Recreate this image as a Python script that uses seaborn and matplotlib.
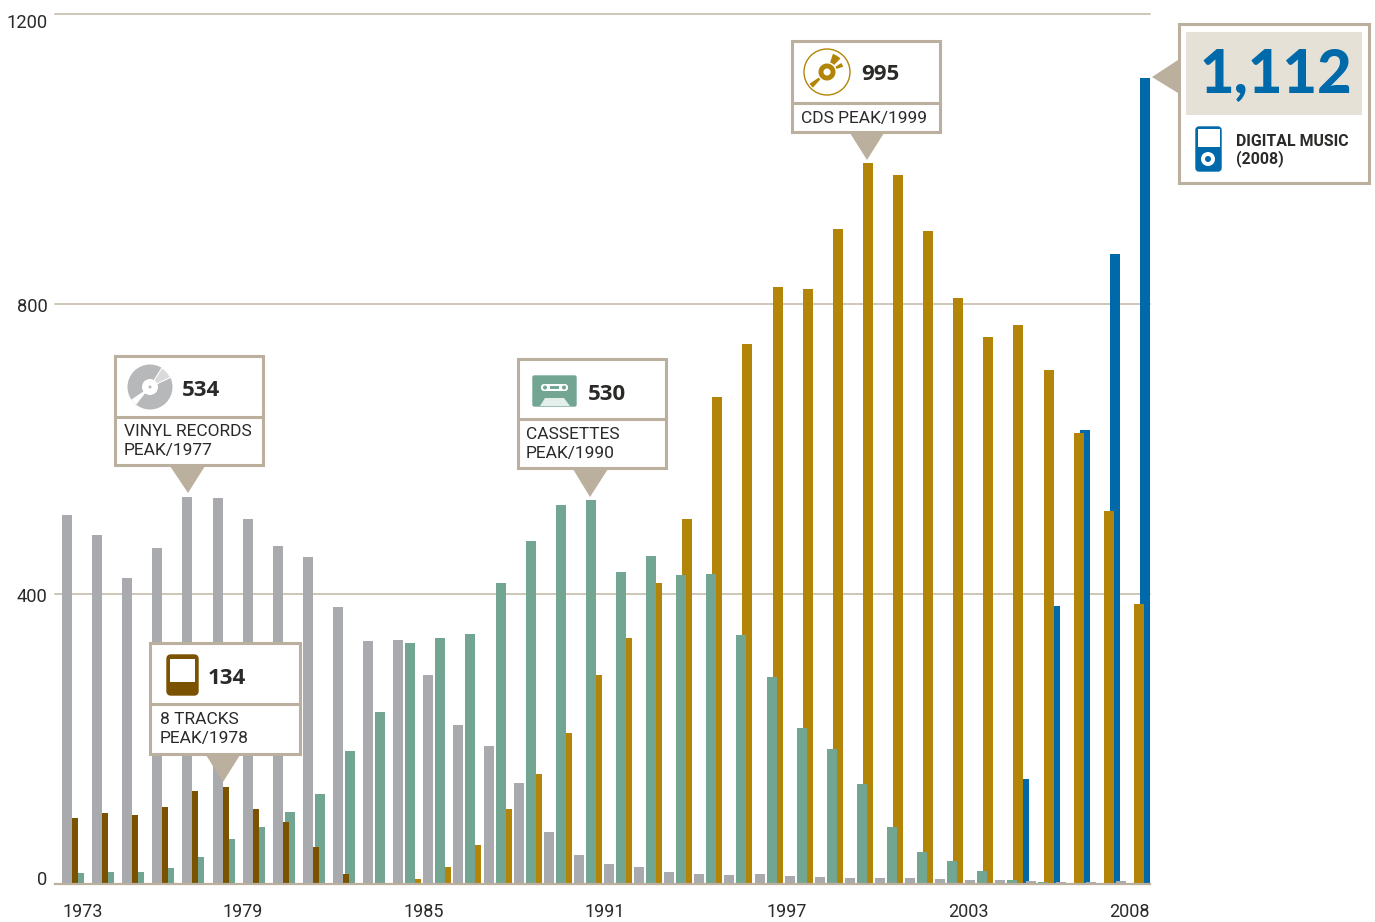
import matplotlib
matplotlib.use('Agg')
import matplotlib.pyplot as plt
import matplotlib.patches as mp
import pandas as pd
import seaborn as sns
from matplotlib.transforms import ScaledTranslation

# values, in millions of units
years = list(range(1973, 2009))
vinyl = [509, 481, 422, 463, 534, 532, 503, 466, 451, 382, 335, 337, 288, 219, 190, 139, 72, 40,
         28, 23, 17, 14, 12, 14, 11, 10, 8, 8, 8, 7, 6, 6, 4, 3, 3, 4]
cassettes = [15, 17, 17, 22, 37, 62, 79, 99, 124, 183, 237, 332, 339, 345, 415, 473, 523, 530,
             430, 452, 426, 428, 343, 286, 215, 186, 138, 79, 44, 32, 18, 6, 3, 2, 2, 2]
tracks_years = list(range(1973, 1983))
tracks = [91, 98, 95, 106, 128, 134, 103, 86, 51, 14]
cd_years = list(range(1984, 2009))
cds = [7, 23, 54, 103, 152, 208, 288, 339, 415, 503, 672, 745, 823, 821, 903, 995, 978, 901,
       808, 754, 771, 709, 622, 514, 386]
digital_years = list(range(2004, 2009))
digital = [145, 383, 626, 869, 1112]

x_ticks = [1973, 1979, 1985, 1991, 1997, 2003, 2008]
y_ticks = [0, 400, 800, 1200]

GRAY = '#A9AAAE'
BROWN = '#7A5200'
GREEN = '#72A592'
GOLD = '#B28508'
BLUE = '#0069AA'
BEIGE = '#BBAF9D'
PALE = '#E5E1D6'
DARK = '#2B2A29'

sns.set_style('white')
plt.rcParams['font.family'] = ['Roboto', 'DejaVu Sans']

W, H = 1375, 922
fig = plt.figure(figsize=(W / 100, H / 100), dpi=100)
ax = fig.add_axes([55 / W, (H - 884) / H, 1095 / W, 870 / H])

PERIOD = 30.11  # pixels per year
BAR_W = 10 / PERIOD


def bars(yrs, vals, shift_px, color):
    # each format sits at its own shift inside the year slot
    df = pd.DataFrame({'x': [y + shift_px / PERIOD for y in yrs], 'v': vals})
    sns.barplot(data=df, x='x', y='v', native_scale=True, width=BAR_W, color=color,
                saturation=1, linewidth=0, errorbar=None, ax=ax)


# back to front, the later bars cover the earlier ones
bars(digital_years, digital, 29, BLUE)
bars(cd_years, cds, 23, GOLD)
bars(years, cassettes, 17, GREEN)
bars(tracks_years, tracks, 11, BROWN)
bars(years, vinyl, 5, GRAY)

ax.set_ylim(0, 1200)
ax.set_xlabel('')
ax.set_ylabel('')
ax.set_axisbelow(True)
ax.grid(axis='y', color='#CDC6B6', lw=1.4)
ax.grid(axis='x', visible=False)
for gl in ax.get_ygridlines():
    gl.set_clip_on(False)
for side in ['top', 'left', 'right']:
    ax.spines[side].set_visible(False)
ax.spines['bottom'].set_color(BEIGE)
ax.spines['bottom'].set_linewidth(1.6)

ax.set_yticks(y_ticks)
ax.set_yticklabels([str(v) for v in y_ticks], fontsize=13.2, color=DARK)
ax.tick_params(axis='y', length=0, pad=5.5)
for lab, dy in zip(ax.get_yticklabels(), [6, -1, -1, -7]):
    lab.set_va('center_baseline')
    lab.set_transform(lab.get_transform() + ScaledTranslation(0, dy / 100, fig.dpi_scale_trans))

# label anchors differ a little from the bars, first and last sit on the ends
x_anchor = [1973, 1979, 1985.03, 1991.04, 1997.08, 2003.1, 2009.12]
ax.set_xticks(x_anchor)
ax.set_xticklabels([str(v) for v in x_ticks], fontsize=13, color=DARK)
ax.tick_params(axis='x', length=0, pad=14)
for lab, ha in zip(ax.get_xticklabels(), ['left', 'center', 'center', 'center', 'center', 'center', 'right']):
    lab.set_ha(ha)
ax.set_xlim(1973 - 7 / PERIOD, 1973 + 1088 / PERIOD)

# callouts are drawn on an overlay in pixel coordinates
ov = fig.add_axes([0, 0, 1, 1])
ov.set_xlim(0, W)
ov.set_ylim(H, 0)
ov.axis('off')


def box(x0, y0, x1, y1, div, tri):
    ov.add_patch(mp.Polygon(tri, closed=True, fc=BEIGE, ec='none'))
    ov.add_patch(mp.Rectangle((x0 + 0.8, y0 + 0.8), x1 - x0 - 1.6, y1 - y0 - 1.6, fc='white', ec=BEIGE, lw=2.2))
    if div:
        ov.plot([x0, x1], [div, div], color=BEIGE, lw=2.2, solid_capstyle='butt')


def number(x, y, s):
    ov.text(x, y + 2, s, fontsize=16, fontweight='bold', family=['Open Sans', 'DejaVu Sans'],
            color=DARK, va='center', ha='left')


def label(x, ys, lines):
    for y, s in zip(ys, lines):
        ov.text(x, y, s, fontsize=12.5, color=DARK, va='center', ha='left')


# vinyl
box(114, 355, 264, 466, 417, [(170, 466), (205, 466), (188, 493)])
ov.add_patch(mp.Circle((150, 387), 22.5, fc='#B7B8BA', ec='none'))
ov.add_patch(mp.Wedge((150, 387), 22.5, -58, -25, fc='#DADADC', ec='white', lw=0.8))
ov.add_patch(mp.Wedge((150, 387), 22.5, 128, 146, fc='white', ec='none'))
ov.add_patch(mp.Circle((150, 387), 8, fc='white', ec='none'))
ov.add_patch(mp.Circle((150, 387), 1.5, fc='#B7B8BA', ec='none'))
number(182, 388, '534')
label(124, [431, 450], ['VINYL RECORDS', 'PEAK/1977'])

# cassettes
box(517, 358, 667, 469, 419, [(573, 469), (608, 469), (590, 497)])
ov.add_patch(mp.FancyBboxPatch((533, 376), 43, 30, boxstyle='round,pad=0,rounding_size=1.5', fc=GREEN, ec=GREEN, lw=1))
ov.add_patch(mp.FancyBboxPatch((541, 384), 27, 7, boxstyle='round,pad=0,rounding_size=3', fc='white', ec='none'))
ov.add_patch(mp.Circle((545, 387.5), 2, fc=GREEN, ec='none'))
ov.add_patch(mp.Circle((564, 387.5), 2, fc=GREEN, ec='none'))
ov.add_patch(mp.Rectangle((550, 386), 9, 3, fc=GREEN, ec='none'))
ov.add_patch(mp.Polygon([(540, 406), (545, 398), (564, 398), (570, 406)], closed=True, fc='#E4EEEA', ec='none'))
number(588, 392, '530')
label(526, [434, 453], ['CASSETTES', 'PEAK/1990'])

# 8 tracks, this one covers the bars behind it
box(149, 642, 301, 755, 704, [(206, 755), (240, 755), (223, 782)])
ov.add_patch(mp.FancyBboxPatch((167, 655), 31, 40, boxstyle='round,pad=0,rounding_size=4', fc=BROWN, ec=BROWN, lw=1))
ov.add_patch(mp.Rectangle((170, 659), 25, 23, fc='white', ec='none'))
number(208, 676, '134')
label(160, [719, 738], ['8 TRACKS', 'PEAK/1978'])

# cds
box(791, 40, 941, 133, 103, [(850, 133), (884, 133), (867, 160)])
ov.add_patch(mp.Circle((827, 72), 23, fc='white', ec=GOLD, lw=1))
ov.add_patch(mp.Wedge((827, 72), 8.5, 0, 360, width=5, fc=GOLD, ec='none'))
ov.add_patch(mp.Wedge((827, 72), 19, -72, -45, width=9, fc=GOLD, ec='none'))
ov.add_patch(mp.Wedge((827, 72), 17, -32, -18, width=7, fc=GOLD, ec='none'))
ov.add_patch(mp.Wedge((827, 72), 21, 132, 146, width=11, fc=GOLD, ec='none'))
number(861, 72, '995')
label(801, [118], ['CDS PEAK/1999'])

# digital music
box(1178, 23, 1370, 184, None, [(1178, 60), (1178, 93), (1152, 77)])
ov.add_patch(mp.Rectangle((1186, 32), 176, 83, fc=PALE, ec='none'))
ov.text(1275.5, 74, '1,112', fontsize=43, fontweight=900, family=['Lato', 'DejaVu Sans'],
        color=BLUE, va='center', ha='center')
ov.add_patch(mp.FancyBboxPatch((1196, 127), 25, 44, boxstyle='round,pad=0,rounding_size=3', fc=BLUE, ec=BLUE, lw=1))
ov.add_patch(mp.Rectangle((1198, 129), 22, 18, fc='white', ec='none'))
ov.add_patch(mp.Circle((1208, 159), 7, fc='white', ec='none'))
ov.add_patch(mp.Circle((1208, 159), 3, fc=BLUE, ec='none'))
ov.text(1236, 141, 'DIGITAL MUSIC', fontsize=11.4, fontweight='bold', color=DARK, va='center', ha='left')
ov.text(1236, 159, '(2008)', fontsize=11.4, fontweight='bold', color=DARK, va='center', ha='left')

fig.savefig('out.png', dpi=100)
